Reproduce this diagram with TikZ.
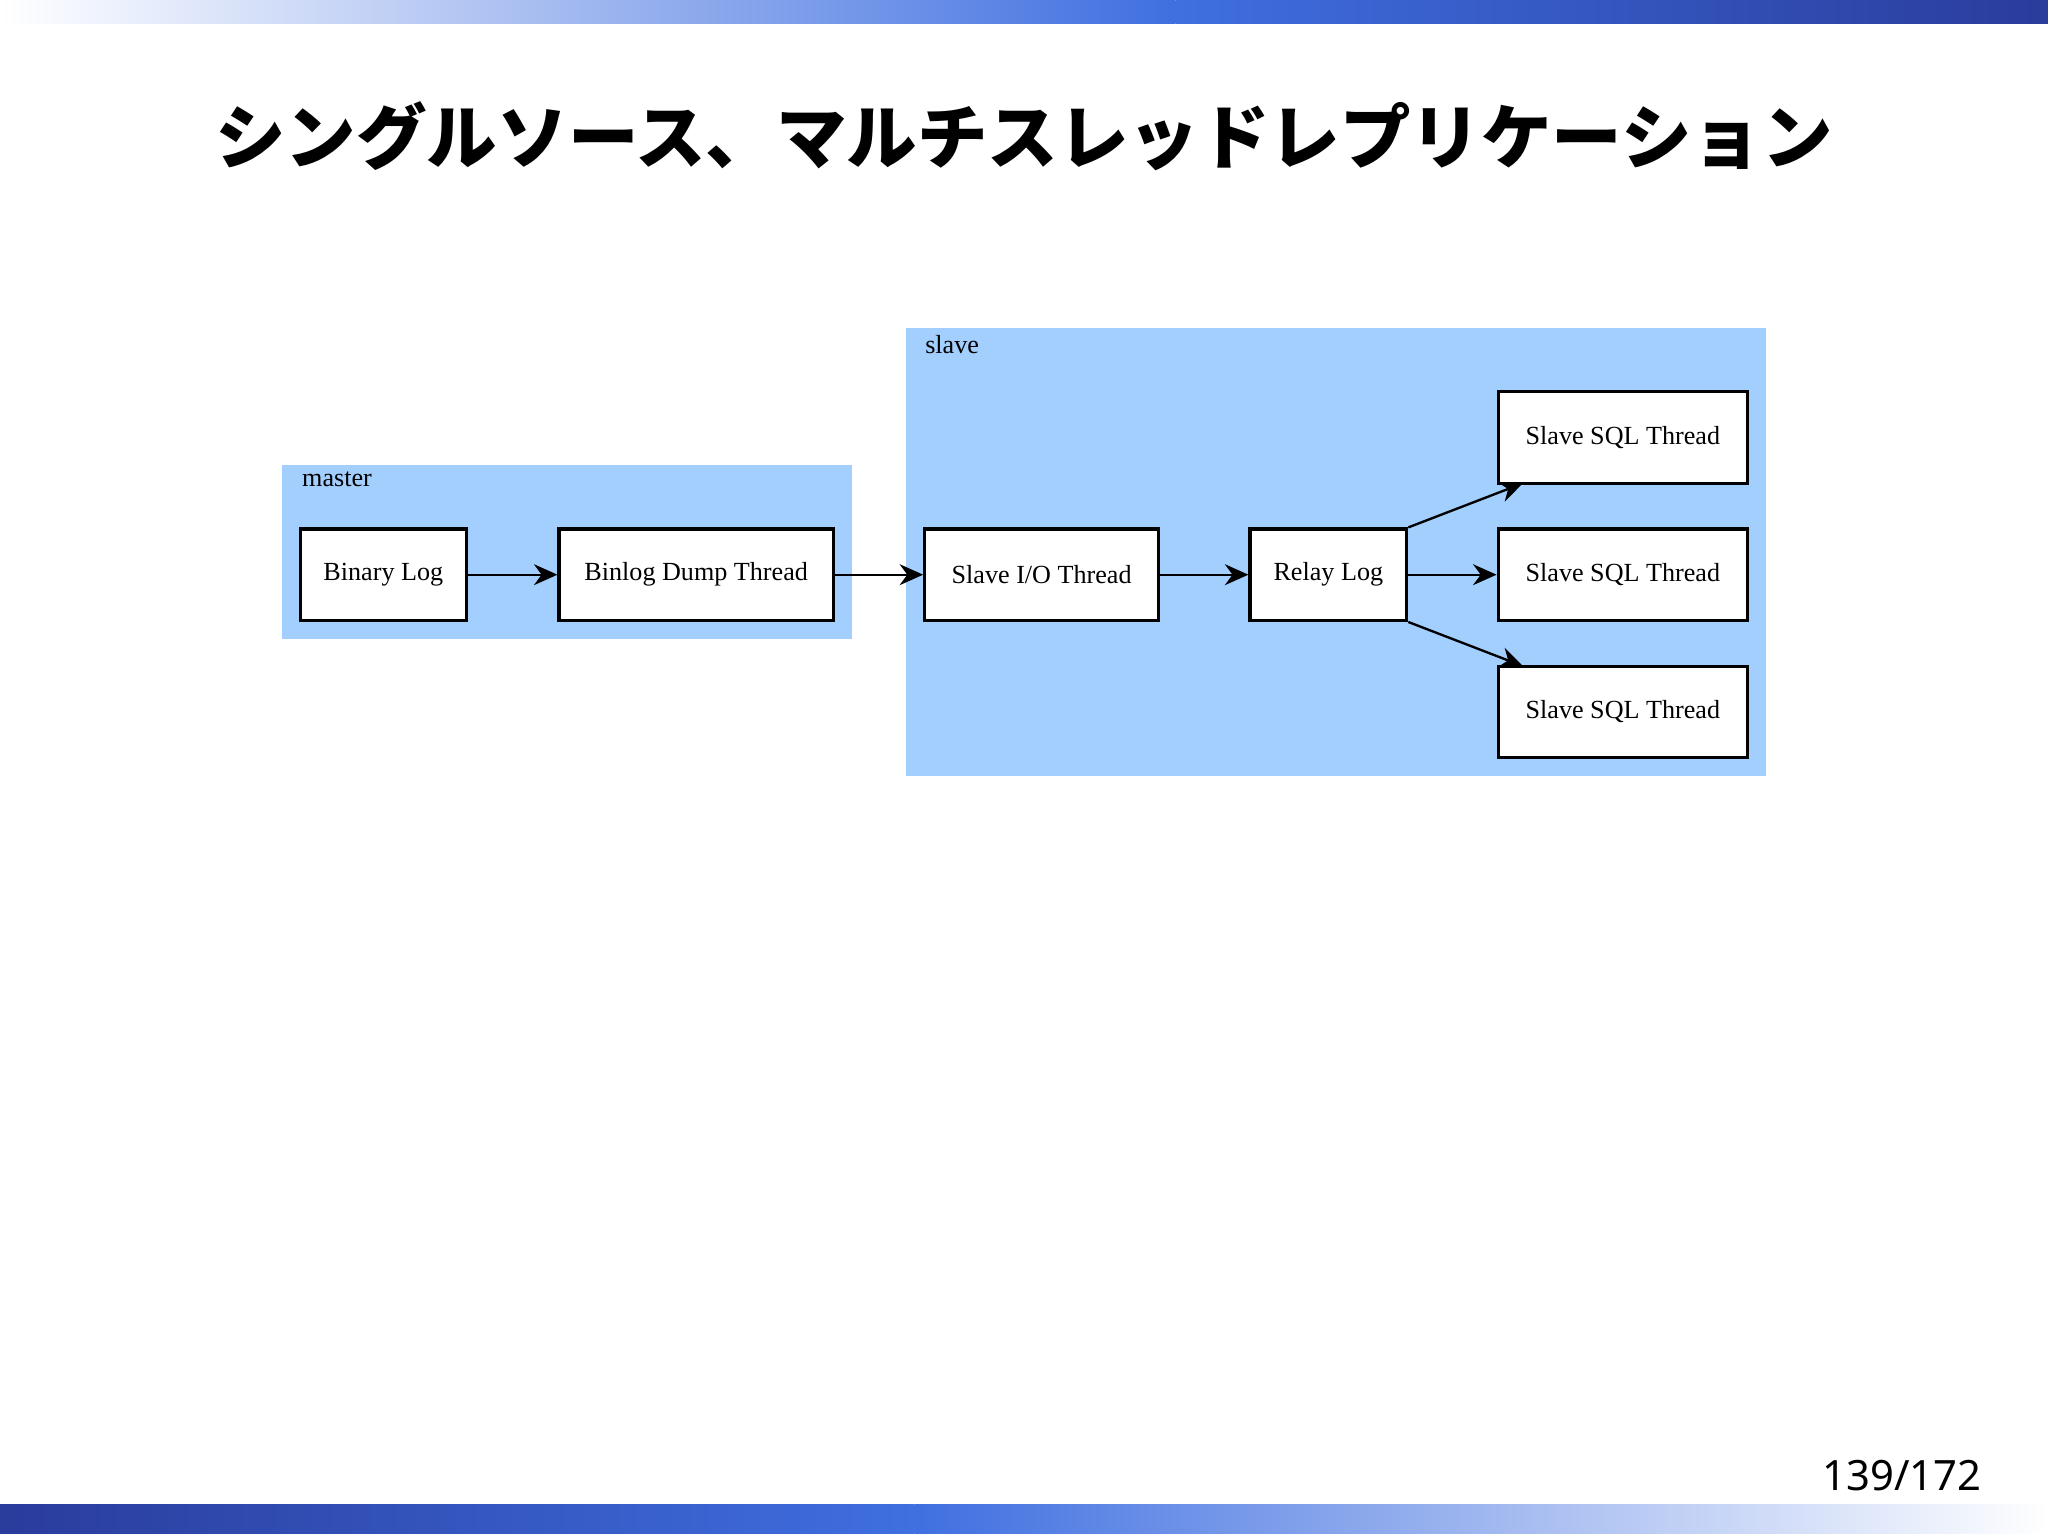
\documentclass[tikz,border=0pt]{standalone}
\usepackage{fontspec}
\setmainfont{Liberation Serif}
\newfontfamily\cjk{Noto Sans CJK JP}
\newfontfamily\sans{Noto Sans}
\usetikzlibrary{arrows.meta}
\definecolor{clus}{HTML}{A3CFFF}
\definecolor{dblue}{HTML}{2A3C9C}
\definecolor{mblue}{HTML}{3F6FE0}
\tikzset{
  box/.style={draw=black, line width=1.2pt, fill=white, minimum width=#1*0.5pt, minimum height=35pt, font=\fontsize{10}{12}\selectfont, inner sep=0pt},
  arr/.style={-{Stealth[length=9pt,width=8pt]}, line width=0.9pt},
  cl/.style={fill=clus, draw=none},
  lab/.style={anchor=north west, font=\fontsize{10}{12}\selectfont, inner sep=0pt}
}
\begin{document}
\begin{tikzpicture}[x=0.5pt,y=-0.5pt]
\useasboundingbox (0,0) rectangle (1568,1176);
\fill[white] (0,0) rectangle (1568,1176);
\shade[left color=white, right color=mblue] (0,0) rectangle (900,18);
\shade[left color=mblue, right color=dblue] (900,0) rectangle (1568,18);
\shade[left color=dblue, right color=mblue] (0,1152) rectangle (700,1174);
\shade[left color=mblue, right color=white] (700,1152) rectangle (1568,1174);
\node[font=\cjk\bfseries\fontsize{27}{30}\selectfont] (title) at (784,104) {シングルソース、マルチスレッドレプリケーション};
\node[font=\sans\fontsize{16}{18}\selectfont, anchor=east] (page) at (1524,1130) {139/172};
\fill[cl] (216,356) rectangle (652,489);
\node[lab] (mlab) at (231,361) {master};
\fill[cl] (694,251) rectangle (1352,594);
\node[lab] (slab) at (708,256) {slave};
\node[box=127] (bin) at (293.5,440) {Binary Log};
\node[box=210] (dump) at (533,440) {Binlog Dump Thread};
\node[box=179] (io) at (797.5,440) {Slave I/O Thread};
\node[box=120] (relay) at (1017,440) {Relay Log};
\node[box=191] (s1) at (1242.5,335) {Slave SQL Thread};
\node[box=191] (s2) at (1242.5,440) {Slave SQL Thread};
\node[box=191] (s3) at (1242.5,545) {Slave SQL Thread};
\draw[arr] (bin) -- (dump);
\draw[arr] (dump) -- (io);
\draw[arr] (io) -- (relay);
\draw[arr] (relay.north east) -- (1166,370);
\draw[arr] (relay) -- (s2);
\draw[arr] (relay.south east) -- (1166,510);
\end{tikzpicture}
\end{document}
